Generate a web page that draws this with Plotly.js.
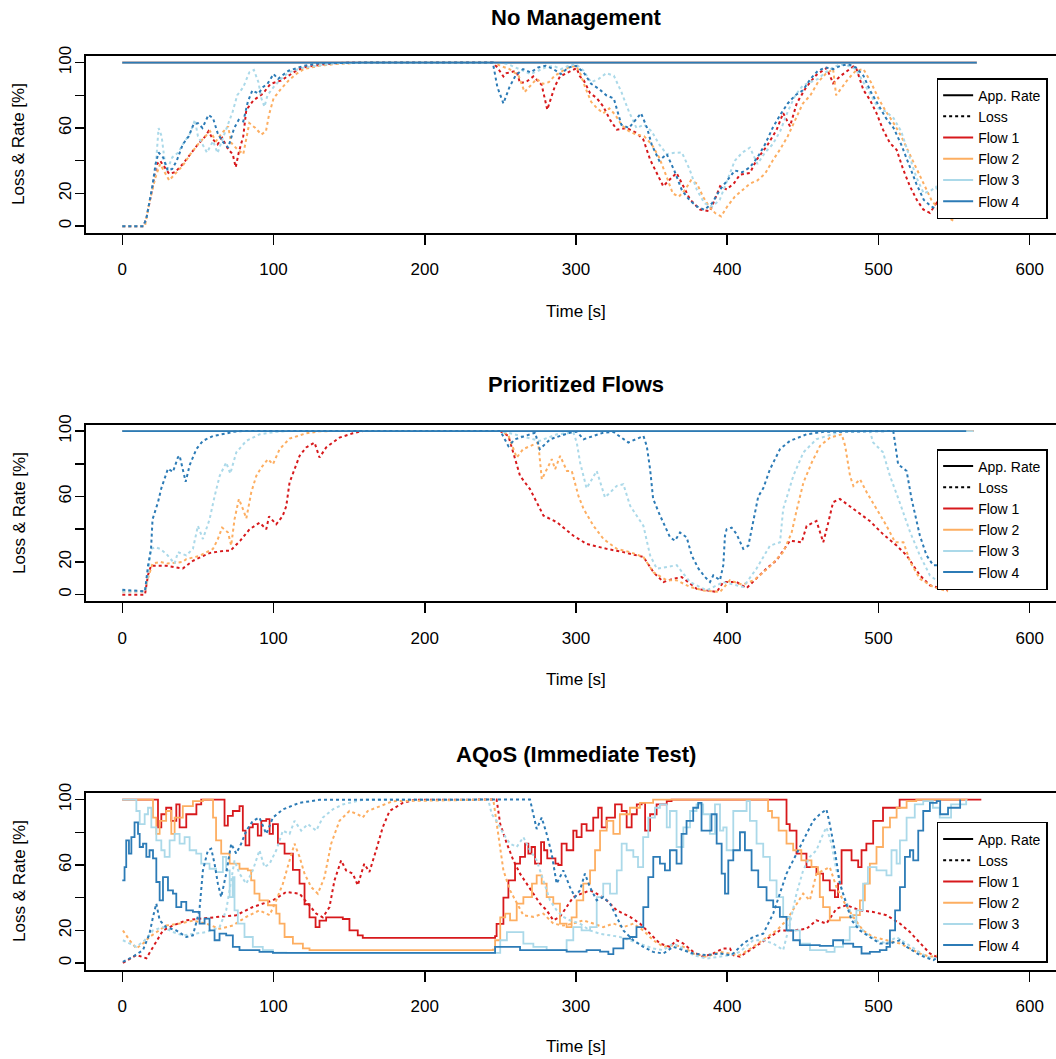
<!DOCTYPE html>
<html>
<head>
<meta charset="utf-8">
<script src="https://cdn.plot.ly/plotly-3.0.1.min.js"></script>
<style>
html,body{margin:0;padding:0;background:#fff;overflow:hidden;}
#chart{width:1100px;height:1059px;}
</style>
</head>
<body>
<div id="chart"></div>
<script>
// ---------------- DATA ----------------
const flowNames = ['Flow 1','Flow 2','Flow 3','Flow 4'];
const flowColors = ['#d7191c','#fdae61','#abd9e9','#2c7bb6'];
const panelTitles = ['No Management','Prioritized Flows','AQoS (Immediate Test)'];
const xTickVals = [0,100,200,300,400,500,600];
const xTickText = ['0','100','200','300','400','500','600'];
const yTickVals = [0,20,40,60,80,100];
const yTickText = ['0','20','','60','','100'];

// Panel 1: No Management
const p1RateX = [0, 565];
const p1RateY = [100, 100];
const p1f1LossX = [0,14,16,18,20,23,25,28,31,35,40,45,50,55,57,60,63,66,70,73,75,77,80,82,86.8,93,98,105,110,115,120,130,140,150,160,245,248,252,254,258.5,260.8,263,267.4,271.8,277.3,279.5,281,282.8,286,289.4,296,300.4,302.6,305,309.3,313.7,318,322.5,327,333.5,340,344.5,349,353.3,357.7,362,366.5,371,375.4,379.8,382,388.6,395.3,399.7,404.6,408.4,415,419.5,426.1,432.7,437,441.5,446,452.5,459,465.7,470,474.5,483.3,485.5,490,494.3,498.7,503,507.6,512,516.4,520.8,525.2,529.6,534,538.5,543,547.3];
const p1f1LossY = [0,0,5,15,25,38,40,36,32,33,38,44,50,55,58,53,50,54,47,44,36,45,55,71,77,81,87,89,92,95,97,98.5,99.5,100,100,100,97,91.5,93.5,94.5,94.5,87.4,88.4,91.5,86.4,77.3,71.2,76.3,85.4,91.5,94.5,96.6,91.5,89.4,81.3,78.3,73.2,65,59,60,57,53,40.7,32.5,24.4,28.5,32.5,24.4,16.3,12.2,10.2,9.1,24.4,22.4,26.4,31.5,32.5,40.7,48.8,59,69.1,61,75.2,85.4,92.5,96.6,87.4,91.5,97.6,96,83.3,77.3,69.1,59,50.8,46.7,34.5,24.4,16.3,10.2,8.1,14.2,10.2,6.1];
const p1f2LossX = [0,15,18,22,25,28,31,35,40,45,50,55,58,62,66,70,72,76,80,84,88,92,95,97,100,105,110,115,120,130,140,160,245,250,256,262,266,270,274,278,282,286,290,295,300,303,306,310,314,318,322,326,330,335,340,345,350,355,360,364,368,372,376,380,384,388,392,396,400,405,410,415,420,425,430,435,440,445,450,455,460,465,470,472,476,480,485,490,495,500,505,510,515,520,525,530,535,540,545,550];
const p1f2LossY = [0,0,15,30,38,33,28,32,37,44,50,55,58,52,57,61,51,47,44,63,60,56,58,68,78,84,89,93,96,98,99,100,100,98,96,92,82,86,90,87,88,92,94,97,98,93,85,76,72,69,72,68,62,58,56,55,50,42,30,20,18,22,28,26,18,12,8,6,12,18,22,26,28,32,40,47,55,65,75,80,88,93,96,80,85,90,95,96,88,78,70,63,55,45,35,25,16,10,6,3];
const p1f3LossX = [0,14,16,18,20,22,24,26,28,30,33,37,40,45,48,50,53,56,60,63,67,70,73,76,80,84,87,90,92,94,96,100,105,110,120,140,160,245,250,255,260,265,270,275,280,285,290,295,300,305,310,315,320,325,330,335,340,345,350,355,360,365,370,375,380,385,390,395,400,405,410,415,420,425,430,435,440,445,450,455,460,465,470,475,480,485,490,495,500,505,510,515,520,525,530,535,538,542,546,550];
const p1f3LossY = [0,0,5,14,25,35,60,55,40,35,42,45,50,57,65,55,50,45,52,44.7,55,62,70,80,85,94,95.5,88,78,73,80,85,90,94,97,99.5,100,100,100,99,97,95,93,95,97,98,96,98,99,95,88,90,93.5,92,82,70,60,62,58,50,44,44.8,45,35,22,14,12,16,28,40,45,48,38,45,50,58,70,80,86,88,90,94,97,99,98,96,88,80,72,70,66,58,44,30,20,22,24,15,8,5];
const p1f4LossX = [0,10,14,16,18,20,22,24,27,30,33,36,40,44,47,50,53,57,60,63,66,70,74,77,80,83,86,90,93,96,100,103,107,110,120,130,160,245,248,252,256,260,265,270,275,280,285,290,295,300,305,310,315,320,325,330,335,340,343,347,350,355,360,365,370,375,380,385,390,395,400,405,410,415,420,425,430,435,440,445,450,455,460,465,470,475,480,485,490,495,500,505,510,515,520,525,530,535,540,545,548];
const p1f4LossY = [0,0,0,5,15,25,38,45,42,34,35,40,50,55,62,63,60,68,66,57,52,48,60,65,64,76,83,81,85,87,93,90,93,95,98,99.5,100,100,85,75,85,92,96,94,97,98,96,93,97,98,94,87,84,80,78,62,60,66,69,60,50,40,44,34,22,16,12,10,14,22,28,34,33,36,42,50,60,68,75,80,83,90,95,97,96,98,99,97,92,82,74,66,60,50,38,26,16,12,10,8,6];

// Panel 2: Prioritized Flows
const p2RateX = [0, 563];
const p2RateY = [100, 100];
const p2Rate4X = [0, 558];
const p2f1LossX = [0,10,15,17,19,29,40,46.7,57.7,66.9,71.4,78,84.2,90.8,95.2,97,101.8,106,108.4,110.6,113.9,117.2,121.6,127.1,130.4,134.8,143.6,152.4,159,250,255.3,258.6,263,269.6,276,278.5,287.3,298.3,307,320.3,331.3,344.6,351.3,357.8,364.4,369.9,379.8,393,397.4,406.2,412.8,419.4,426,432.6,441.5,449.2,452.5,459,463.5,466.8,470,474.5,478.9,485.5,494.3,503,512,518.6,527.4,534,546];
const p2f1LossY = [0,0,0,12,17.7,17.7,16,20.7,25.4,26.8,26.8,33,40,44,40,47.8,43,48,54,68.5,76.7,84.8,90,93,83.8,90,96,98.6,100,100,97,86.8,72.6,64.5,52.4,48.3,44.3,36,31,28,26,23,13.6,7.7,9.7,10.8,3.6,1.6,7.7,7.7,4,9.7,16,21,33,32,42,45,32,44,56.5,58.5,55.5,51.4,45,37,30,24,11.8,5.7,2.6];
const p2f2LossX = [0,15,17,20,25,30,40,42.3,51,60,63.2,66,69.9,72,74.2,77.1,79.7,82,85.3,88.6,91.9,96.3,99.6,104,110.6,121.6,130.4,140,250,255,260.8,265,275,277.4,284,286.2,289.5,294,297.2,301.6,305,311.6,318.2,327,335.8,344.6,351.3,360,366.6,375.4,384.2,395.2,401.8,410,418,428,437,442.6,446,450.4,455.9,461.4,468,475.7,478,481.2,483.4,487.8,492.3,498.8,505.4,511,516.5,521,527.4,536.2,546];
const p2f2LossY = [2,2,10,19,20,19,20,21.7,23.7,28,34,41,38,30,46,58.5,52.5,46.6,62.6,72.6,77.7,82.8,79.7,88.9,95.4,98.6,99.8,100,100,98,83.8,88.9,93,70.5,82.8,76.7,84.8,75.6,75.6,60.4,52.4,42,34,28,26,23,13.6,8.8,8.8,4.7,2.6,1.6,8.8,6,9,17,26,38,52,68.6,80.8,91,96,98,90.8,72.6,66.5,70.5,62.4,52.4,42,32,32,19.9,9.7,4.7,2];
const p2f3LossX = [0,15,17,19,22,25,29,34.6,36.8,42.3,46.7,50,53.3,57.7,61,64.4,68.7,71.4,75.4,82,90.8,101.8,110,250,255,276,287.3,298.3,300.5,302.7,307,313.7,319.2,327,331.3,335.8,344.6,349,353.4,366.6,375.4,386.4,397.4,410.6,419.4,428.3,434.9,437,443.7,450.4,459,474.5,494.3,496.5,503,507.6,514,521,527.4,534,542.7];
const p2f3LossY = [2,2,12,28,29,28,25,19,26,24,28,42,34,46,60,72.6,80.8,74,87,94,98,99.5,100,100,99,94,98,99,93,80.8,65,75.6,59.4,66.5,67.5,54.3,42,24,15.9,18,7.7,2.6,7.7,4.7,16,30,32,52.4,72.6,87,95,99.5,100,93,87,72.6,56.5,38,24,11.8,5.7];
const p2f4LossX = [0,15,17,19,20,23.6,25.8,30.2,33.5,36.8,37.9,40,41.9,44.5,49,53.3,60,68.7,73.1,80,250,255.3,259.7,273,276,283,296,300.6,305,318,324.7,334.6,340,344.6,346.8,349,351,355.6,362.2,365.5,368.8,373.2,376.5,381,385.3,388.6,390.8,395.2,397.4,398.5,399.6,402.9,406.2,410.6,414,417.2,420.5,423.8,428.3,434.9,441.5,452.5,463.5,509.8,511,513,518.6,521.9,527.4,531.8,536.2,539.5,547.2];
const p2f4LossY = [3,2,17.7,28,46,56.5,65,77,75,84,85,77,69,79,89,94,97,98.5,99.5,100,100,90.8,95,99,88.9,95,99,99.5,95,99,99.5,93,95,97,90.8,76.7,58.5,48.3,35,33,38,35,24,15.9,10.8,7.7,11.8,8.8,18,36,40,41,37,28,30,46,60,65,76.7,89,94,98,99.5,100,93,79.7,75.6,58.5,36,24,18,18,8.8];

// Panel 3: AQoS (Immediate Test) -- rates (step) and losses
const p3f1RateX = [0,19,23.6,25.8,29,32.4,35.7,37.9,42.3,49,52.2,66,67.6,69.8,73.1,77.5,79.7,81.5,84,86.3,89.6,91.9,95.2,97.4,99.6,102.9,107.3,112.8,117.2,120.5,123.8,127.8,130.4,134.8,145.8,150.2,155.7,159,246.5,247.5,252,255.3,259.7,263,266.3,268.5,270.6,272.9,276.9,278.9,281,286.4,288.3,290.5,293.8,298.2,300.4,303.7,307,311.4,314.7,317,320.2,325.8,330.2,333.5,336.8,340.2,343.4,345.7,349,353.3,360,363.2,437,439.2,441.3,445.8,452.4,459,463.4,467.8,471.2,473.3,475.6,478.9,482.2,486.6,488.8,492,496.5,503,514,568];
const p3f1RateY = [100,100,83,91,95,87,97,83,91,97,100,100,84,90,93,96,81,72,83,85,78,87,88,79,85,73,67,57,48.6,36,28,22,26,28,27,20,17,15.5,16.5,24,40,50.6,60.8,65,73,67,71,60.8,74,69,64,60.8,60,73,69,81,77,85,81,89,95,83,89,97,93,83,91,97,98,81,91,97,99,100,100,85,81,67,58.7,54.7,50.6,44.5,40.4,48.6,69,69,62.8,58.7,69,73,87,95,100,100];
const p3f2RateX = [0,19,20.3,22.5,24.7,29,32.4,34.6,40,46.7,53.3,58.8,60,62,65.4,71,77.5,83,85.2,87.4,90.7,96.3,101.8,104,107.3,112.8,119.4,123.8,245,246.5,249.9,253.2,256.4,260.8,265.2,270.9,274,277.3,280.6,285,289.4,293.8,297.1,300.4,304.8,309.3,312.6,315.9,320.3,324.7,329,335.7,342.3,351,426,427,429.6,434,439.2,443.6,449,455.7,460,461.2,463.4,467.8,474.5,483.3,487.7,491,494.3,498.7,503,507.6,512,518.6,525,559];
const p3f2RateY = [100,100,89,79,87,93,79,89,96,99,100,100,89,75,67,60.8,57.7,56.7,50.6,42.5,38.4,35.4,30.3,24.2,16,12,9,8,8.3,14,28,30.3,26.2,36.4,40.4,48.6,53.7,48.6,40.4,36.4,24.2,22,28,38.4,48.6,56.7,69,81,87,79,91,95,98,100,100,93,89,81,73,69,62.8,58.7,54.7,40.4,34.3,26.2,28,29.3,38.4,48.6,60.8,71,83,89,95,99,100,100];
const p3f3RateX = [0,8.1,9.3,11.5,14.8,17,19.2,22.5,25.8,28,31.3,34.6,37.9,41.2,44.5,48.9,52.2,57.7,62,66.5,68.7,71,73,74.2,76.4,80.8,86.3,92.9,99.6,108.4,245,249.9,254.3,262,265.2,271.8,280.6,291.6,293.8,298.2,303.7,309.3,313.7,318,322.5,327,330.2,333.5,337.9,341,344.4,347.8,352.2,355.5,360,362.1,366.5,371,375.4,379.7,384.1,388.5,391.9,395.2,397.4,399.6,404,412.8,415,419.4,423.8,428.2,432.6,437,441.4,448,454.7,465.6,471,476.6,481,485.4,489.8,493,498.7,505.3,508.6,512,514.2,518.6,524,529.6,536,540.5,548,558];
const p3f3RateY = [100,100,93,85,91,95,83,75,69,65,75,79,73,77,69,67,60.8,57.7,55.7,65,56.7,40.4,52.6,32.3,24.2,16,10,8,6.5,6.3,6.3,14,19,19,12,10,8,8,14,22,20,22,40.4,48.6,42.5,56.7,73,69,65,58.7,77,89,95,97,83,93,71,83,93,97,91,79,97,81,83,69,93,99,87,73,65,50.6,40.4,28.3,20,12,8,6.9,10,14,22,32.3,48.6,58.7,56.7,53.7,69,60.8,75,89,97,99,95,89,97,100];
const p3f4RateX = [0,1.5,2.6,4.4,6,8.1,10.4,11.5,13.7,15.9,18,20.3,22.5,24.7,26.9,30.2,33.5,35.7,39,42.3,46.7,51.1,54.4,57.7,61,64.3,68.7,73.1,77.5,90.7,99.6,245.3,246.5,258.6,263,271.8,282.8,293.8,307,315.9,321.4,324.7,331.3,335.7,340,344.5,347.8,351.1,355.5,358.8,362.1,366.5,369.8,373.1,377.5,380.8,383,386.3,389.6,393,396.3,398.5,400.7,404,408.4,411.7,416.1,420.5,426,430.4,434.8,439.2,443.6,448,461.2,467.8,470,476.6,483.3,488.8,494.3,500.9,505.3,507.6,511,514.2,517.5,520.8,523,526.3,529.6,534,538.5,540.8,546,554];
const p3f4RateY = [50.6,58.7,75,67,77,86,79,71,73,65,69,64,49.6,38.4,52.6,44.5,42.5,34.3,37.4,32.3,31.3,24.2,27.2,20,14,18,17,10,8,6.9,6.3,6.3,10,10,8,8,8,7,8,7,5.5,9,15,16,22,34.3,52.6,65,60.8,56.7,69,60.8,79,87,95,98,81,81,91,73,54.7,42.5,62.8,69,80,69,56.7,46.5,38.4,34.3,28.3,20,14,11,10.6,10.6,14,12,10,5.9,6.9,8,10,20,32.3,46.5,65,69,62.8,81,93,98,99,91,95,100];
const p3f1LossX = [0.4,9.3,15.9,20.3,26.9,33.5,42.3,51.1,64.3,75.3,86.3,99.6,108.4,117.2,128.2,132.6,137,140.3,144.7,148,152.4,155.7,160,163.4,167.8,172.2,176.7,185.5,193.2,247.5,249.9,254.3,258.6,263,267.4,271.8,276.2,280.6,285,289.4,293.8,298.2,303.7,309.3,313.7,320.3,326.9,335.7,342.3,349,355.5,362.1,366.5,371,377.5,384.1,390.7,397.3,401.8,404,408.4,415,421.6,428.2,434.8,443.6,452.4,459,465.6,472.2,478.9,487.7,496.5,505.3,514.2,520.8,527.7,534,540.8,547.5];
const p3f1LossY = [0.2,5,3,10,20,23,26.2,27.2,28.3,29.3,34.3,38.4,43.5,42.5,30.3,28,34.3,50.6,62.8,56.7,54.7,47.6,60.8,55.7,69,83,93,98,99.8,100,85,73,62.8,54.7,48.6,42.5,36.4,32.3,26.2,28.3,34.3,40.4,42.5,44.5,42.5,38.4,32.3,28.3,24.2,18,12,10,14,12,6.9,3.9,5.9,9,9,4.9,3.9,8,12,16,20,20,21,26.2,24.2,33.3,35.4,32.3,31.3,29.3,24.2,19,12,5.9,2.8,5.9];
const p3f2LossX = [0.4,4.8,9.3,13.7,18,24.7,29,37.9,46.7,55.5,64.3,73.1,82,90.7,97.4,101.8,106.2,110.6,113.9,117.2,120.5,124.9,129.3,133.7,138.1,143.6,150.2,155.7,159,162.3,170,178.9,245.3,247.5,249.9,252,256.4,260.8,265.2,271.8,278.4,285,291.6,298.2,304.8,311.4,318,324.7,331.3,337.9,344.5,351.1,357.7,364.3,371,377.5,386.3,395.2,401.8,408.4,417.2,426,432.6,439.2,445.8,450.2,454.6,459,463.4,467.8,472.2,476.6,483.3,489.8,496.5,505.3,514.2,520.8,527.4,534,540.8,549.5];
const p3f2LossY = [20,14,9,12,16,20,23,24.2,26,24.2,21,23,28.3,32.3,29.3,38.4,48.6,62.8,73,65,54.7,46.5,42.5,52.6,73,87,93,91,89,93,96,99,100,85,71,56.7,44.5,36.4,29.3,28.3,30.3,24.2,23,24.2,26.2,24.2,22,24.2,22,24.2,20,14,10,11,10,5.9,3.9,6.9,5.9,4.9,10,16,20,26.2,36.4,42.5,38.4,54.7,56.7,58.7,46.5,38.4,28.3,20,16,14,12,9,5.9,3.9,4.9,3.9];
const p3f3LossX = [0.4,4.8,9.3,14.8,20.3,26.9,33.5,40.1,46.7,55.5,64.3,68.7,72,74.2,77.5,82,86.3,90.7,94,97.4,101.8,106.2,110.6,113.9,118.3,122.7,128.2,132.6,139.2,145.8,154.6,160,242,244.3,247.5,252,256.4,260.8,265.2,269.6,274,278.4,282.8,287.2,291.6,296,302.6,309.2,315.9,322.5,329,335.7,342.3,351,357.7,364.3,371,377.5,386.3,395.2,401.8,408.4,417.2,423.8,430.4,437,441.4,445.8,450.2,454.6,459,463.4,465.6,468.9,472.2,476.6,481,485.4,492,498.7,505.3,511.9,518.6,525.2,531.8,538.4,545];
const p3f3LossY = [14,12,10,14,20,22,19,17,18,19,22,32.3,50.6,62.8,54.7,48.6,56.7,69,58.7,60.8,69,81,79,87,81,85,81,89,94,97,99,100,100,91,87,79,73,71,77,69,62.8,50.6,38.4,32.3,28.3,26.2,24.2,20,18,17,16,14,12,9,8,12,9,4.9,2.8,3.9,4.9,6.9,14,14,12,8,24,42.5,56.7,65,69,79,83,73,56.7,42.5,32.3,24.2,18,14,12,16,12,8,3.9,2.8,3.9];
const p3f4LossX = [0.4,7,13.7,18,20.3,22.5,24.7,29,35.7,42.3,46.7,51,53.3,56.6,58.8,61,63.2,65.4,68.7,72,75.3,78.6,82,86.3,90.7,95.2,99.6,106.2,117.2,130.4,269.6,271.8,274,277.3,280.6,283.9,287.2,291.6,296,299.3,302.6,305.9,309.2,313.7,318,322.5,327,331.3,337.9,344.5,351,357.7,364.3,371,377.5,386.3,395.2,401.8,404,410.6,417.2,423.8,430.4,434.8,439.2,443.6,448,452.4,456.8,461.2,465.6,467.8,471.1,474.5,477.8,482.2,487.7,494.3,500.9,507.6,514.2,518.6,527.4,536.3,543,547.5];
const p3f4LossY = [0.8,3.9,8,18,28.3,36.4,26.2,22,20,16,17,32.3,56.7,69,70,60.8,48.6,40.4,54.7,73,67,73,81,87,89,79,89,94,98,99.8,100,91,82,89,79,67,48.6,56.7,46.5,40.4,44.5,54.7,46.5,38.4,40.4,36.4,28.3,20,14,10,6.9,5.9,10,8,5.9,4.9,5.9,4.9,5.9,12,16,18,30.3,42.5,54.7,62.8,71,79,87,91,94,85,69,48.6,38.4,26.2,20,16,12,12,14,10,4.9,1.8,5.9,5.9];

// ---------------- BUILD ----------------
const FONT = 'Liberation Sans, Arial, Helvetica, sans-serif';
const traces = [];
function line(x, y, color, dash, ax, shape) {
  traces.push({
    type: 'scatter', mode: 'lines', x: x, y: y,
    xaxis: 'x' + ax, yaxis: 'y' + ax, showlegend: false, hoverinfo: 'skip',
    line: {color: color, width: dash === 'solid' ? 1.8 : 2, dash: dash, shape: shape || 'linear'}
  });
}
const panels = [
  {ax: '', rates: [[p1RateX,p1RateY],[p1RateX,p1RateY],[p1RateX,p1RateY],[p1RateX,p1RateY]],
   losses: [[p1f1LossX,p1f1LossY],[p1f2LossX,p1f2LossY],[p1f3LossX,p1f3LossY],[p1f4LossX,p1f4LossY]], shape: 'linear'},
  {ax: '2', rates: [[p2RateX,p2RateY],[p2RateX,p2RateY],[p2RateX,p2RateY],[p2Rate4X,p2RateY]],
   losses: [[p2f1LossX,p2f1LossY],[p2f2LossX,p2f2LossY],[p2f3LossX,p2f3LossY],[p2f4LossX,p2f4LossY]], shape: 'linear'},
  {ax: '3', rates: [[p3f1RateX,p3f1RateY],[p3f2RateX,p3f2RateY],[p3f3RateX,p3f3RateY],[p3f4RateX,p3f4RateY]],
   losses: [[p3f1LossX,p3f1LossY],[p3f2LossX,p3f2LossY],[p3f3LossX,p3f3LossY],[p3f4LossX,p3f4LossY]], shape: 'hv'}
];
const legendIds = ['legend','legend2','legend3'];
panels.forEach(function(p, i) {
  for (let f = 0; f < 4; f++) {
    line(p.rates[f][0], p.rates[f][1], flowColors[f], 'solid', p.ax, p.shape);
    line(p.losses[f][0], p.losses[f][1], flowColors[f], 'dot', p.ax, 'linear');
  }
  const entries = [['App. Rate','#000000','solid'],['Loss','#000000','dot']]
    .concat(flowNames.map(function(n, k){ return [n, flowColors[k], 'solid']; }));
  entries.forEach(function(e) {
    traces.push({type:'scatter', mode:'lines', x:[null], y:[null], name:e[0],
      xaxis:'x'+p.ax, yaxis:'y'+p.ax, legend: legendIds[i], showlegend:true,
      line:{color:e[1], width:2, dash:e[2]}});
  });
});

const domains = [[0.78026,0.94712],[0.43229,0.59915],[0.08432,0.25118]];
const legendTops = [0.9263, 0.5760, 0.2238];
const titleY = [1-18/1059, 1-385/1059, 1-754/1059];
const xTitleY = [1-311/1059, 1-679/1059, 1-1046/1059];
const yTitleY = [1-144/1059, 1-513/1059, 1-881/1059];

const layout = {
  width: 1100, height: 1059,
  margin: {l: 86, r: 34, t: 0, b: 0, pad: 0},
  paper_bgcolor: '#ffffff', plot_bgcolor: '#ffffff',
  font: {family: FONT, color: '#000000', size: 17},
  annotations: []
};
['', '2', '3'].forEach(function(ax, i) {
  layout['xaxis' + ax] = {
    domain: [0, 1], anchor: 'y' + ax, range: [-24, 624],
    tickmode: 'array', tickvals: xTickVals, ticktext: xTickText,
    ticks: 'outside', ticklen: 10, tickwidth: 1.5, tickcolor: '#000',
    showline: true, mirror: true, linecolor: '#000', linewidth: 2,
    showgrid: false, zeroline: false, ticklabelstandoff: 10,
    tickfont: {family: FONT, size: 17, color: '#000'}
  };
  layout['yaxis' + ax] = {
    domain: domains[i], anchor: 'x' + ax, range: [-4, 104],
    tickmode: 'array', tickvals: yTickVals, ticktext: yTickText,
    ticks: 'outside', ticklen: 9, tickwidth: 1.5, tickcolor: '#000',
    showline: true, mirror: true, linecolor: '#000', linewidth: 2,
    showgrid: false, zeroline: false, tickangle: -90, ticklabelstandoff: -3,
    tickfont: {family: FONT, size: 17, color: '#000'}
  };
  layout[legendIds[i]] = {
    x: 0.868, y: legendTops[i], xanchor: 'left', yanchor: 'top',
    xref: 'paper', yref: 'paper',
    bgcolor: '#ffffff', bordercolor: '#000000', borderwidth: 1.5,
    font: {family: FONT, size: 14, color: '#000'},
    tracegroupgap: 0, itemwidth: 30, traceorder: 'normal'
  };
  layout.annotations.push({text: '<b>' + panelTitles[i] + '</b>', xref: 'paper', yref: 'paper',
    x: 0.5, y: titleY[i], xanchor: 'center', yanchor: 'middle', showarrow: false,
    font: {family: FONT, size: 22, color: '#000'}});
  layout.annotations.push({text: 'Time [s]', xref: 'paper', yref: 'paper',
    x: 0.5, y: xTitleY[i], xanchor: 'center', yanchor: 'middle', showarrow: false,
    font: {family: FONT, size: 17, color: '#000'}});
  layout.annotations.push({text: 'Loss & Rate [%]', xref: 'paper', yref: 'paper',
    x: -0.0684, y: yTitleY[i], xanchor: 'center', yanchor: 'middle', textangle: -90, showarrow: false,
    font: {family: FONT, size: 17, color: '#000'}});
});

Plotly.newPlot('chart', traces, layout, {displayModeBar: false, staticPlot: true});
</script>
</body>
</html>
